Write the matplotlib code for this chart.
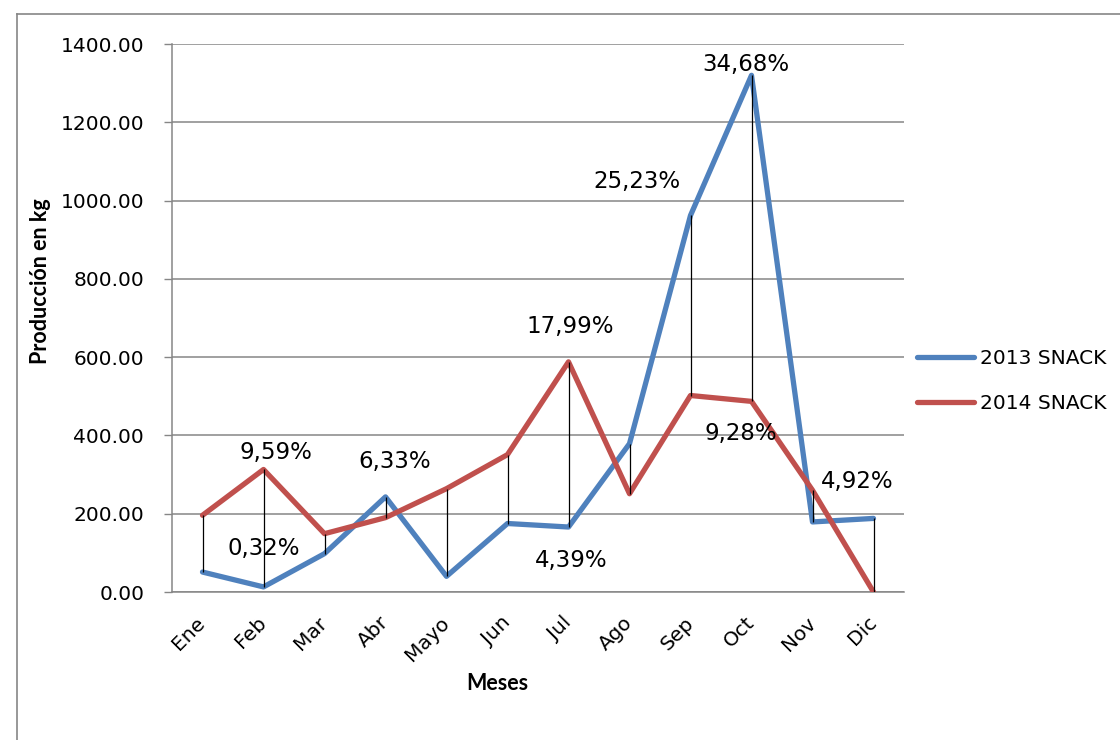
import matplotlib
matplotlib.use("Agg")
import matplotlib.pyplot as plt
from matplotlib.lines import Line2D
import numpy as np

meses = ["Ene", "Feb", "Mar", "Abr", "Mayo", "Jun", "Jul", "Ago", "Sep", "Oct", "Nov", "Dic"]
snack_2013 = [51, 13, 98, 243, 40, 175, 166, 379, 962, 1320, 179, 188]
snack_2014 = [196, 313, 149, 190, 264, 351, 588, 251, 502, 487, 260, 0]

# percentage labels: text, month index, y position (kg)
etiquetas = ["9,59%", "0,32%", "6,33%", "17,99%", "4,39%", "25,23%", "34,68%", "9,28%", "4,92%"]
etiq_x = [1.21, 1.01, 3.15, 6.02, 6.04, 7.12, 8.9, 8.82, 10.74]
etiq_y = [357, 112, 334, 679, 81, 1049, 1348, 405, 283]

BLUE = "#4F81BD"
RED = "#C0504D"
GRID = "#868686"

fig = plt.figure(figsize=(11.2, 7.4), dpi=100)
ax = fig.add_axes([172 / 1120, 1 - 592 / 740, (904 - 172) / 1120, (592 - 44) / 740])

x = np.arange(len(meses))
ax.plot(x, snack_2013, color=BLUE, lw=3.8, solid_capstyle="round", zorder=3)
ax.plot(x, snack_2014, color=RED, lw=3.8, solid_capstyle="round", zorder=3)

# high-low lines between both years
lo = np.minimum(snack_2013, snack_2014)
hi = np.maximum(snack_2013, snack_2014)
ax.vlines(x, lo, hi, color="black", lw=0.9, zorder=4)

for t, ex, ey in zip(etiquetas, etiq_x, etiq_y):
    ax.text(ex, ey, t, ha="center", va="center", fontsize=16.5, zorder=5)

ax.set_xlim(-0.5, len(meses) - 0.5)
ax.set_ylim(0, 1400)
ax.set_yticks(np.arange(0, 1401, 200))
ax.set_yticklabels([f"{v:.2f}" for v in np.arange(0, 1401, 200)], fontsize=14.5)
ax.set_xticks(x)
ax.set_xticklabels(meses, fontsize=14.5, rotation=45, ha="right", va="center",
                   rotation_mode="anchor")
ax.tick_params(axis="x", length=0, pad=20)
ax.tick_params(axis="y", length=6, width=1, color=GRID, pad=14)

ax.grid(axis="y", color=GRID, lw=1.1, zorder=0)
for s in ["top", "right"]:
    ax.spines[s].set_visible(False)
ax.spines["left"].set_color(GRID)
ax.spines["bottom"].set_color(GRID)
ax.spines["left"].set_linewidth(1.1)
ax.spines["bottom"].set_linewidth(1.1)

fig.text(41 / 1120, 1 - 281 / 740, "Producción en kg", rotation=90, ha="center", va="center",
         fontsize=15.5, fontweight="bold", family="Lato")
fig.text(497 / 1120, 1 - 683 / 740, "Meses", ha="center", va="center",
         fontsize=15.5, fontweight="bold", family="Lato")

handles = [Line2D([], [], color=BLUE, lw=3.8, solid_capstyle="round"),
           Line2D([], [], color=RED, lw=3.8, solid_capstyle="round")]
fig.legend(handles, ["2013 SNACK", "2014 SNACK"], loc="center left",
           bbox_to_anchor=(899 / 1120, 1 - 381 / 740), frameon=False, fontsize=14.5,
           handlelength=2.8, handletextpad=0.3, labelspacing=1.25)

# chart area border
fig.add_artist(Line2D([17 / 1120, 17 / 1120], [0, 1 - 14 / 740], color=GRID, lw=1.2))
fig.add_artist(Line2D([17 / 1120, 1], [1 - 14 / 740, 1 - 14 / 740], color=GRID, lw=1.2))

fig.savefig("out.png", dpi=100)
